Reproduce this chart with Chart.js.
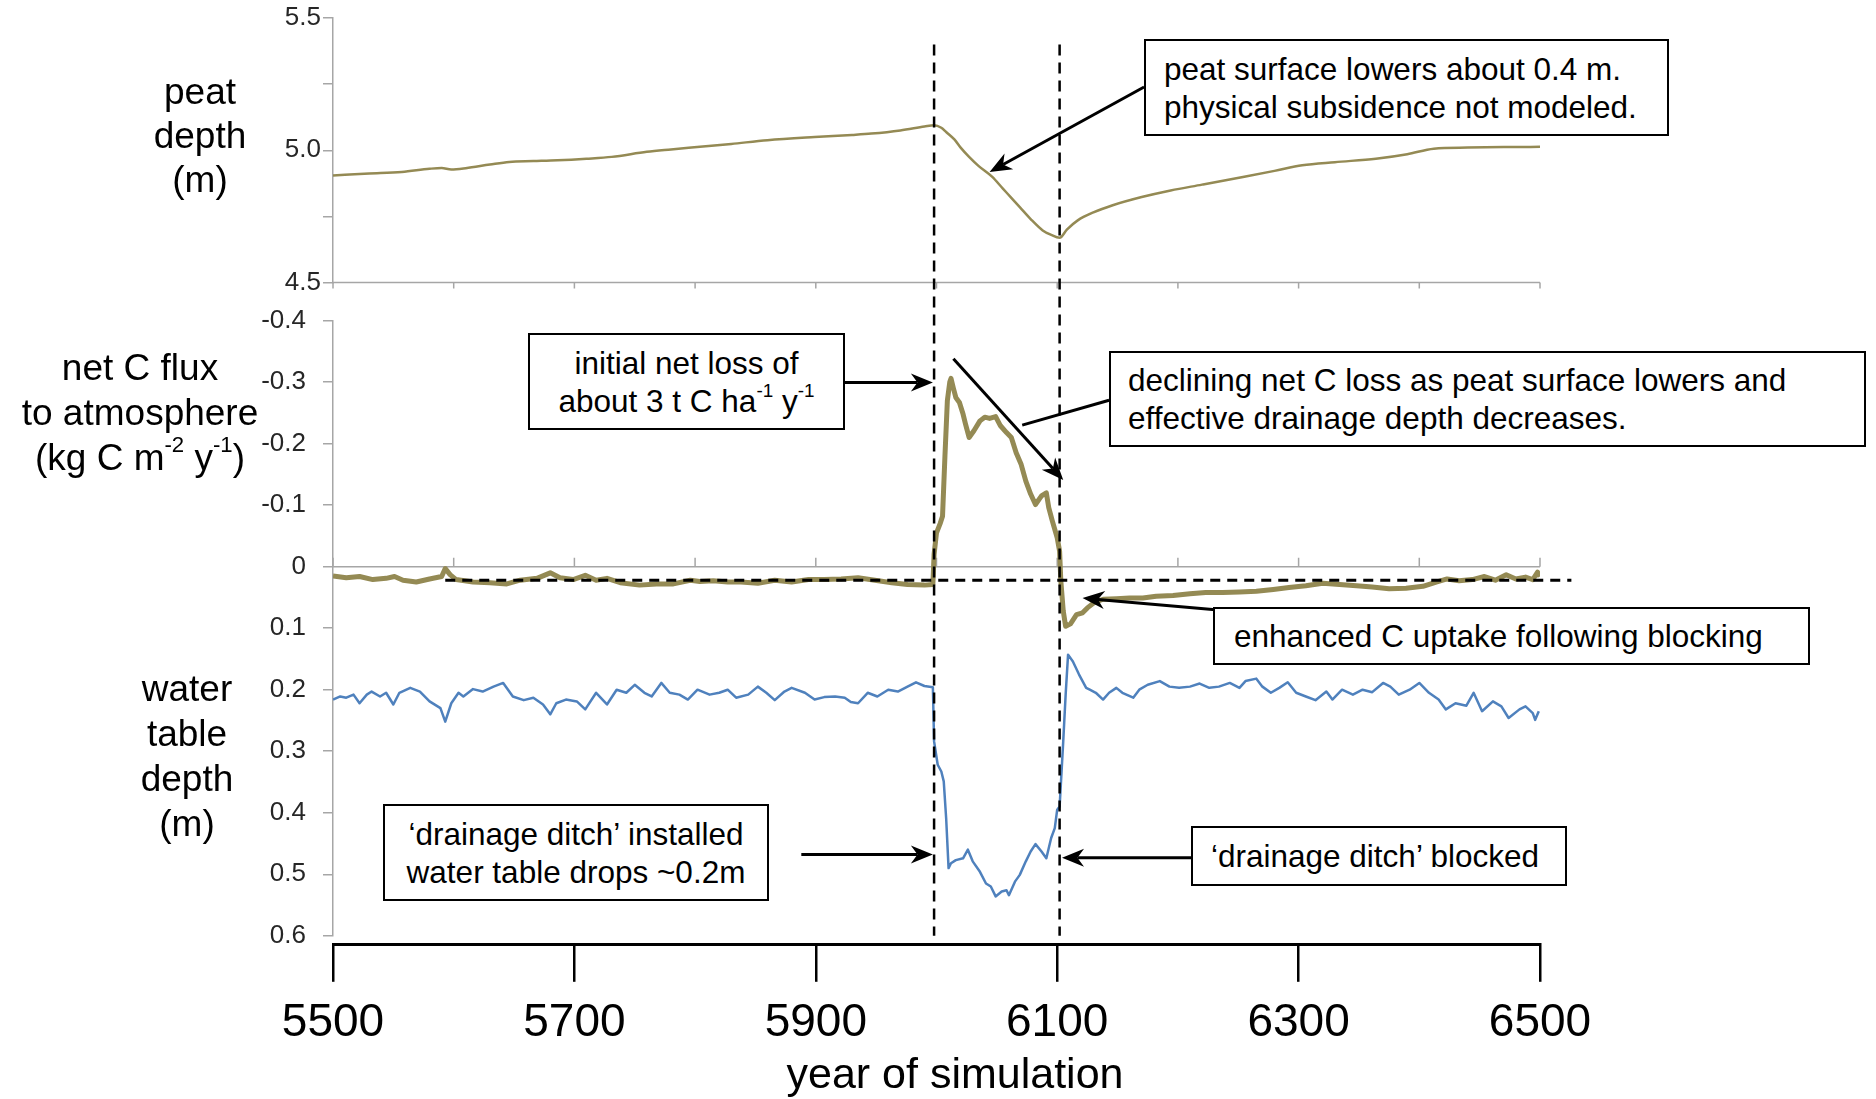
<!DOCTYPE html>
<html>
<head>
<meta charset="utf-8">
<title>Peat drainage and ditch blocking</title>
<script src="https://cdn.jsdelivr.net/npm/chart.js@4.4.1/dist/chart.umd.min.js"></script>
<style>
  html, body { margin: 0; padding: 0; background: #fff; }
  #wrap { position: relative; width: 1876px; height: 1099px; font-family: 'Liberation Sans', Arial, sans-serif; color: #000; }
  #chart { position: absolute; left: 0; top: 0; }
  .side { position: absolute; text-align: center; font-size: 37px; line-height: 44px; white-space: nowrap; }
  .note { position: absolute; box-sizing: border-box; border: 2.5px solid #000; background: #fff;
          font-size: 31.5px; line-height: 38px; display: flex; align-items: center; white-space: nowrap; }
  .note.center { justify-content: center; text-align: center; }
  sup { font-size: 0.6em; line-height: 0; vertical-align: 0.8em; }
  #xtitle { position: absolute; left: 705px; top: 1047px; width: 500px; text-align: center; font-size: 43px; line-height: 52px; }
</style>
</head>
<body>
<div id="wrap">
  <canvas id="chart" width="1876" height="1099"></canvas>

  <div class="side" style="left:100px; top:70px; width:200px;">peat<br>depth<br>(m)</div>
  <div class="side" style="left:-3px; top:345px; width:286px; line-height:45px;">net C flux<br>to atmosphere<br>(kg C m<sup>-2</sup> y<sup>-1</sup>)</div>
  <div class="side" style="left:87px; top:666px; width:200px; line-height:45px;">water<br>table<br>depth<br>(m)</div>

  <div class="note" style="left:1144px; top:39px; width:525px; height:97px; padding-left:18px;">
    <div>peat surface lowers about 0.4 m.<br>physical subsidence not modeled.</div></div>
  <div class="note center" style="left:528px; top:333px; width:317px; height:97px;">
    <div>initial net loss of<br>about 3 t C ha<sup>-1</sup> y<sup>-1</sup></div></div>
  <div class="note" style="left:1109px; top:351px; width:757px; height:96px; padding-left:17px;">
    <div>declining net C loss as peat surface lowers and<br>effective drainage depth decreases.</div></div>
  <div class="note" style="left:1213px; top:607px; width:597px; height:58px; padding-left:19px;">
    <div>enhanced C uptake following blocking</div></div>
  <div class="note center" style="left:383px; top:804px; width:386px; height:97px;">
    <div>‘drainage ditch’ installed<br>water table drops ~0.2m</div></div>
  <div class="note" style="left:1191px; top:826px; width:376px; height:60px; padding-left:18px;">
    <div>‘drainage ditch’ blocked</div></div>

  <div id="xtitle">year of simulation</div>
</div>

<script>
// ---- data (years of simulation) ----
const peatYears = [5500, 5530, 5557, 5580, 5590, 5598, 5610, 5630, 5646, 5666, 5686, 5710, 5731, 5760, 5780,
  5804, 5830, 5860, 5899, 5930, 5946, 5970, 5990, 5998, 6004, 6008, 6015, 6020, 6027, 6035, 6046, 6055,
  6062, 6069, 6078, 6088, 6095, 6102, 6108, 6117, 6130, 6146, 6170, 6194, 6220, 6255, 6280, 6303, 6330,
  6364, 6390, 6412, 6440, 6470, 6500];
const peatDepth = [4.905, 4.912, 4.918, 4.930, 4.933, 4.927, 4.932, 4.946, 4.956, 4.959, 4.962, 4.968, 4.975,
  4.994, 5.003, 5.013, 5.024, 5.038, 5.050, 5.058, 5.063, 5.075, 5.090, 5.095, 5.085, 5.069, 5.040, 5.010,
  4.975, 4.940, 4.900, 4.855, 4.820, 4.785, 4.740, 4.697, 4.680, 4.669, 4.700, 4.735, 4.765, 4.792, 4.823,
  4.848, 4.870, 4.900, 4.922, 4.943, 4.955, 4.968, 4.985, 5.006, 5.010, 5.012, 5.013];

// net C flux to atmosphere, kg C m-2 y-1 (negative = loss, axis reversed)
const fluxYears = [5500, 5511, 5522, 5533, 5544, 5551, 5558, 5569, 5580, 5590, 5593, 5597, 5602, 5616, 5630,
  5644, 5655, 5669, 5680, 5688, 5699, 5709, 5718, 5727, 5738, 5754, 5768, 5782, 5796, 5804, 5815, 5827,
  5838, 5852, 5866, 5880, 5894, 5907, 5921, 5935, 5949, 5963, 5976, 5990, 5997,
  5998, 6000, 6003, 6005, 6007, 6009, 6011, 6012, 6014, 6016, 6019, 6022, 6024, 6027, 6031, 6036, 6040,
  6044, 6049, 6053, 6058, 6062, 6066, 6070, 6074, 6078, 6082, 6087, 6091, 6093, 6096, 6100, 6102,
  6103, 6105, 6107, 6111, 6116, 6121, 6125, 6131, 6138, 6149, 6160, 6171, 6182, 6196, 6210, 6223, 6237,
  6251, 6265, 6279, 6292, 6306, 6320, 6334, 6348, 6361, 6375, 6389, 6403, 6414, 6423, 6433, 6444, 6454,
  6463, 6472, 6480, 6488, 6494, 6498, 6500];
const netFlux = [0.015, 0.018, 0.016, 0.021, 0.019, 0.016, 0.022, 0.025, 0.020, 0.016, 0.003, 0.013, 0.021,
  0.025, 0.026, 0.028, 0.022, 0.019, 0.010, 0.018, 0.021, 0.014, 0.022, 0.019, 0.026, 0.030, 0.028, 0.028,
  0.022, 0.024, 0.023, 0.025, 0.025, 0.027, 0.022, 0.025, 0.021, 0.021, 0.020, 0.018, 0.022, 0.026, 0.029,
  0.030, 0.029,
  -0.020, -0.055, -0.070, -0.082, -0.180, -0.270, -0.300, -0.306, -0.290, -0.275, -0.267, -0.248, -0.232,
  -0.210, -0.221, -0.237, -0.243, -0.241, -0.244, -0.229, -0.218, -0.210, -0.185, -0.167, -0.139, -0.118,
  -0.101, -0.115, -0.120, -0.096, -0.074, -0.047, -0.025,
  0.023, 0.072, 0.097, 0.093, 0.078, 0.075, 0.067, 0.058, 0.053, 0.052, 0.051, 0.051, 0.048, 0.047, 0.044,
  0.042, 0.042, 0.041, 0.040, 0.037, 0.034, 0.031, 0.027, 0.029, 0.031, 0.033, 0.036, 0.035, 0.032, 0.025,
  0.020, 0.023, 0.021, 0.016, 0.022, 0.013, 0.020, 0.017, 0.021, 0.009, 0.016];

// water table depth below surface, m
const waterYears = [5500, 5506, 5511, 5517, 5522, 5528, 5532, 5539, 5544, 5550, 5555, 5564, 5572, 5580, 5589,
  5593, 5598, 5604, 5608, 5616, 5624, 5633, 5641, 5649, 5658, 5666, 5674, 5680, 5685, 5693, 5702, 5709,
  5718, 5727, 5735, 5743, 5750, 5758, 5764, 5772, 5779, 5787, 5794, 5802, 5812, 5820, 5827, 5834, 5844,
  5852, 5859, 5866, 5874, 5880, 5891, 5899, 5907, 5916, 5924, 5929, 5935, 5943, 5951, 5960, 5968, 5976,
  5983, 5990, 5997,
  5998, 6001, 6004, 6006, 6008, 6010, 6012, 6016, 6022, 6026, 6030, 6036, 6041, 6045, 6049, 6054, 6058,
  6060, 6065, 6069, 6074, 6078, 6082, 6087, 6091, 6095, 6098, 6100, 6102,
  6105, 6107, 6109, 6113, 6118, 6124, 6127, 6132, 6138, 6143, 6149, 6154, 6163, 6168, 6175, 6185, 6193,
  6201, 6210, 6218, 6226, 6234, 6243, 6251, 6256, 6265, 6270, 6277, 6284, 6291, 6298, 6306, 6314, 6323,
  6328, 6336, 6345, 6353, 6361, 6370, 6376, 6383, 6392, 6400, 6408, 6416, 6422, 6430, 6439, 6445, 6452,
  6461, 6468, 6474, 6483, 6488, 6494, 6496, 6499];
const waterDepth = [0.216, 0.211, 0.213, 0.208, 0.222, 0.208, 0.203, 0.211, 0.205, 0.224, 0.205, 0.197, 0.203,
  0.219, 0.230, 0.252, 0.222, 0.205, 0.211, 0.199, 0.203, 0.195, 0.189, 0.211, 0.217, 0.213, 0.224, 0.240,
  0.222, 0.216, 0.219, 0.232, 0.205, 0.224, 0.200, 0.205, 0.192, 0.205, 0.211, 0.189, 0.205, 0.208, 0.216,
  0.200, 0.208, 0.205, 0.200, 0.213, 0.208, 0.195, 0.205, 0.217, 0.203, 0.197, 0.205, 0.216, 0.212, 0.211,
  0.213, 0.220, 0.222, 0.205, 0.211, 0.200, 0.203, 0.195, 0.188, 0.194, 0.196,
  0.284, 0.322, 0.333, 0.349, 0.409, 0.490, 0.482, 0.477, 0.474, 0.460, 0.479, 0.496, 0.515, 0.520, 0.536,
  0.528, 0.526, 0.534, 0.512, 0.501, 0.479, 0.463, 0.451, 0.463, 0.474, 0.441, 0.425, 0.395, 0.390,
  0.284, 0.208, 0.143, 0.154, 0.175, 0.197, 0.200, 0.205, 0.216, 0.205, 0.197, 0.205, 0.213, 0.200, 0.192,
  0.186, 0.195, 0.197, 0.195, 0.190, 0.197, 0.195, 0.189, 0.197, 0.186, 0.182, 0.195, 0.205, 0.197, 0.188,
  0.205, 0.211, 0.217, 0.203, 0.216, 0.200, 0.208, 0.200, 0.204, 0.189, 0.195, 0.208, 0.200, 0.189, 0.205,
  0.216, 0.232, 0.222, 0.226, 0.205, 0.235, 0.219, 0.227, 0.246, 0.232, 0.227, 0.238, 0.249, 0.235];

// axis ticks
const yearTicks = [5500, 5700, 5900, 6100, 6300, 6500];
const panelTickYears = [5500, 5600, 5700, 5800, 5900, 6000, 6100, 6200, 6300, 6400, 6500];
const peatTickValues = [4.5, 4.75, 5.0, 5.25, 5.5];
const peatLabels = [4.5, 5.0, 5.5];
const midTickValues = [-0.4, -0.3, -0.2, -0.1, 0, 0.1, 0.2, 0.3, 0.4, 0.5, 0.6];

// ditch installed / ditch blocked, and mean flux before drainage
const eventYears = [5998, 6102];
const baselineFlux = 0.022;
const baselineSpan = [5593, 6526];

// callout arrows: [axis, fromYear, fromValue, toYear, toValue, arrowhead]
const arrows = [
  ['yPeat', 6172, 5.239, 6044, 4.918, true],
  ['yMid', 5924, -0.2995, 5997, -0.2995, true],
  ['yMid', 6014, -0.338, 6105, -0.141, true],
  ['yMid', 6143, -0.2705, 6071, -0.23, false],
  ['yMid', 6504, 0.1166, 6121, 0.0511, true],
  ['yMid', 5888, 0.468, 5997, 0.468, true],
  ['yMid', 6211, 0.473, 6104, 0.473, true]
];

const FONT = "'Liberation Sans', Arial, sans-serif";
const olive = '#948A54';
const blue = '#4F81BD';
const axisGrey = '#a6a6a6';

function toPoints(xs, ys) {
  return xs.map(function (x, i) { return { x: x, y: ys[i] }; });
}

function drawArrow(ctx, x1, y1, x2, y2, head) {
  var a = Math.atan2(y2 - y1, x2 - x1);
  var c = Math.cos(a), s = Math.sin(a);
  var len = 22, half = 9;
  var ex = head ? x2 - len * 0.7 * c : x2;
  var ey = head ? y2 - len * 0.7 * s : y2;
  ctx.beginPath();
  ctx.moveTo(x1, y1);
  ctx.lineTo(ex, ey);
  ctx.stroke();
  if (!head) return;
  var bx = x2 - len * c, by = y2 - len * s;
  ctx.beginPath();
  ctx.moveTo(x2, y2);
  ctx.lineTo(bx - half * s, by + half * c);
  ctx.lineTo(ex, ey);
  ctx.lineTo(bx + half * s, by - half * c);
  ctx.closePath();
  ctx.fill();
}

// panel base lines, event markers and callout arrows
const panelDecor = {
  id: 'panelDecor',
  beforeDatasetsDraw: function (chart) {
    var ctx = chart.ctx, x = chart.scales.x;
    var bases = [[chart.scales.yPeat.getPixelForValue(4.5), 6], [chart.scales.yMid.getPixelForValue(0), -9]];
    ctx.save();
    ctx.strokeStyle = axisGrey;
    ctx.lineWidth = 1.5;
    bases.forEach(function (b) {
      ctx.beginPath();
      ctx.moveTo(x.left, b[0]);
      ctx.lineTo(x.right, b[0]);
      panelTickYears.forEach(function (yr) {
        var px = x.getPixelForValue(yr);
        ctx.moveTo(px, b[0]);
        ctx.lineTo(px, b[0] + b[1]);
      });
      ctx.stroke();
    });
    ctx.restore();
  },
  afterDatasetsDraw: function (chart) {
    var ctx = chart.ctx, sc = chart.scales, x = sc.x;
    ctx.save();
    ctx.strokeStyle = '#000';
    ctx.fillStyle = '#000';
    ctx.lineWidth = 2.5;
    ctx.setLineDash([11, 7]);
    eventYears.forEach(function (yr) {
      var px = x.getPixelForValue(yr);
      ctx.beginPath();
      ctx.moveTo(px, sc.yPeat.getPixelForValue(5.4));
      ctx.lineTo(px, sc.yMid.getPixelForValue(0.6));
      ctx.stroke();
    });
    ctx.lineWidth = 3;
    ctx.setLineDash([10, 7]);
    var fy = sc.yMid.getPixelForValue(baselineFlux);
    ctx.beginPath();
    ctx.moveTo(x.getPixelForValue(baselineSpan[0]), fy);
    ctx.lineTo(x.getPixelForValue(baselineSpan[1]), fy);
    ctx.stroke();
    ctx.setLineDash([]);
    ctx.lineWidth = 3;
    arrows.forEach(function (a) {
      var y = sc[a[0]];
      drawArrow(ctx, x.getPixelForValue(a[1]), y.getPixelForValue(a[2]),
        x.getPixelForValue(a[3]), y.getPixelForValue(a[4]), a[5]);
    });
    ctx.restore();
  }
};

// same width for every stacked y axis; labels must not push the plot area in
function fixWidth(scale) {
  scale.width = 100;
  scale.paddingTop = 0;
  scale.paddingBottom = 0;
}

var ctx = document.getElementById('chart').getContext('2d');
var chart = new Chart(ctx, {
  type: 'line',
  data: {
    datasets: [
      { label: 'peat depth', data: toPoints(peatYears, peatDepth), yAxisID: 'yPeat',
        borderColor: olive, borderWidth: 2.5, pointRadius: 0, cubicInterpolationMode: 'monotone' },
      { label: 'water table depth', data: toPoints(waterYears, waterDepth), yAxisID: 'yMid',
        borderColor: blue, borderWidth: 2.5, pointRadius: 0, borderJoinStyle: 'round' },
      { label: 'net C flux', data: toPoints(fluxYears, netFlux), yAxisID: 'yMid',
        borderColor: olive, borderWidth: 5, pointRadius: 0, borderJoinStyle: 'round' }
    ]
  },
  options: {
    responsive: false,
    animation: false,
    layout: { padding: { left: 233, top: 18, right: 336, bottom: 34 } },
    plugins: { legend: { display: false }, tooltip: { enabled: false } },
    scales: {
      x: {
        type: 'linear', min: 5500, max: 6500,
        afterBuildTicks: function (s) { s.ticks = yearTicks.map(function (v) { return { value: v }; }); },
        ticks: { autoSkip: false, maxRotation: 0, padding: 14, color: '#000',
          font: { family: FONT, size: 46 }, callback: function (v) { return String(v); } },
        grid: { drawOnChartArea: false, tickLength: 37, color: '#000', lineWidth: 2.5 },
        border: { color: '#000', width: 3 }
      },
      yPeat: {
        type: 'linear', position: 'left', stack: 'panels', stackWeight: 264, weight: 4, min: 4.5, max: 5.5,
        afterBuildTicks: function (s) { s.ticks = peatTickValues.map(function (v) { return { value: v }; }); },
        afterFit: fixWidth,
        ticks: { padding: 2, color: '#262626', font: { family: FONT, size: 26 },
          callback: function (v) { return peatLabels.indexOf(v) >= 0 ? v.toFixed(1) : ''; } },
        grid: { drawOnChartArea: false, tickLength: 10, color: axisGrey, lineWidth: 1.5 },
        border: { color: axisGrey, width: 1.5 }
      },
      gapTop: { type: 'linear', position: 'left', stack: 'panels', stackWeight: 38, weight: 3, display: false },
      yMid: {
        type: 'linear', position: 'left', stack: 'panels', stackWeight: 614, weight: 2,
        min: -0.4, max: 0.6, reverse: true,
        afterBuildTicks: function (s) { s.ticks = midTickValues.map(function (v) { return { value: v }; }); },
        afterFit: fixWidth,
        ticks: { padding: 17, color: '#262626', font: { family: FONT, size: 26 },
          callback: function (v) { return Math.abs(v) < 1e-9 ? '0' : v.toFixed(1); } },
        grid: { drawOnChartArea: false, tickLength: 10, color: axisGrey, lineWidth: 1.5 },
        border: { color: axisGrey, width: 1.5 }
      },
      gapBottom: { type: 'linear', position: 'left', stack: 'panels', stackWeight: 9, weight: 1, display: false }
    }
  },
  plugins: [panelDecor]
});
</script>
</body>
</html>
